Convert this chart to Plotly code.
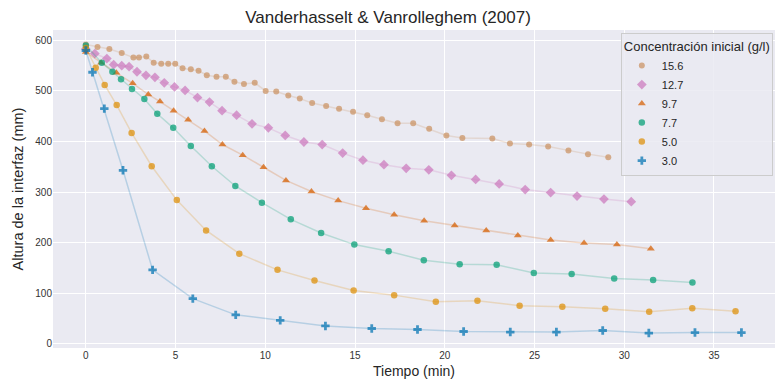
import plotly.graph_objects as go

# ---- data ----
labels = ["15.6", "12.7", "9.7", "7.7", "5.0", "3.0"]

t_156 = [0, 0.65, 1.31, 2.0, 2.65, 2.96, 3.37, 3.78, 4.2, 4.59, 4.98, 5.39, 5.85, 6.28, 6.74, 7.28, 7.8,
         8.28, 8.81, 9.41, 10.02, 10.61, 11.28, 11.92, 12.61, 13.39, 14.11, 14.89, 15.68, 16.5, 17.37,
         18.24, 19.13, 20.09, 20.98, 22.65, 23.63, 24.7, 25.76, 26.89, 27.98, 29.11]
h_156 = [592, 587, 583, 575, 566, 566, 568, 556, 554, 554, 554, 545, 543, 540, 531, 528, 528,
         518, 514, 516, 500, 499, 491, 485, 476, 470, 465, 459, 452, 444, 436,
         436, 425, 412, 407, 406, 396, 394, 390, 382, 375, 369]

t_127 = [0, 0.5, 1.17, 1.55, 2.0, 2.41, 2.85, 3.35, 3.85, 4.37, 4.94, 5.53, 6.22, 6.89, 7.59, 8.4,
         9.26, 10.17, 11.11, 12.15, 13.17, 14.31, 15.44, 16.61, 17.85, 19.11, 20.37, 21.72, 23.03,
         24.48, 25.9, 27.37, 28.87, 30.39]
h_127 = [583, 574, 564, 552, 550, 548, 538, 531, 527, 516, 508, 501, 487, 478, 461, 452,
         435, 427, 412, 399, 394, 377, 363, 354, 347, 344, 333, 325, 316,
         305, 299, 292, 286, 281]

t_97 = [0, 0.85, 1.7, 2.61, 3.48, 4.13, 4.89, 5.7, 6.61, 7.61, 8.74, 9.9, 11.15, 12.57, 14.06,
        15.61, 17.18, 18.85, 20.55, 22.31, 24.07, 25.9, 27.76, 29.59, 31.48]
h_97 = [577, 556, 536, 515, 493, 479, 461, 443, 421, 394, 373, 349, 323, 301, 283,
        268, 255, 243, 234, 224, 214, 205, 199, 196, 188]

t_77 = [0, 0.89, 1.48, 1.96, 2.57, 3.26, 3.98, 4.87, 5.85, 7.02, 8.33, 9.81, 11.42, 13.11, 14.96,
        16.87, 18.83, 20.83, 22.89, 24.96, 27.07, 29.44, 31.61, 33.8]
h_77 = [590, 556, 538, 523, 504, 484, 455, 427, 391, 351, 312, 279, 246, 219, 196,
        183, 165, 157, 156, 140, 138, 129, 126, 121]

t_50 = [0, 0.55, 1.05, 1.72, 2.55, 3.67, 5.07, 6.7, 8.55, 10.68, 12.74, 14.92, 17.18, 19.5, 21.82,
        24.17, 26.55, 28.94, 31.39, 33.79, 36.2]
h_50 = [585, 546, 512, 472, 417, 351, 284, 224, 178, 146, 125, 105, 96, 83, 85,
        75, 73, 69, 63, 70, 64]

t_30 = [0, 0.37, 1.03, 2.07, 3.72, 5.96, 8.35, 10.83, 13.35, 15.93, 18.48, 21.05, 23.65, 26.22,
        28.8, 31.37, 33.94, 36.53]
h_30 = [580, 537, 465, 343, 146, 89, 57, 46, 35, 30, 28, 24, 23, 23, 26, 21, 22, 22]

times = [t_156, t_127, t_97, t_77, t_50, t_30]
heights = [h_156, h_127, h_97, h_77, h_50, h_30]

x_ticks = [0, 5, 10, 15, 20, 25, 30, 35]
y_ticks = [0, 100, 200, 300, 400, 500, 600]

# ---- styles ----
rgb = [(202, 145, 97), (204, 120, 188), (213, 94, 0), (2, 158, 115), (222, 143, 5), (1, 115, 178)]
symbols = ["circle", "diamond", "triangle-up", "circle", "circle", "cross"]
sizes = [6, 7.5, 7, 6.5, 6.5, 7]

fig = go.Figure()
for lab, tx, hy, c, sym, sz in zip(labels, times, heights, rgb, symbols, sizes):
    fig.add_trace(go.Scatter(
        x=tx, y=hy, mode="lines+markers", name=lab, showlegend=False,
        line=dict(color="rgba(%d,%d,%d,0.22)" % c, width=1.5),
        marker=dict(symbol=sym, size=sz, color="rgba(%d,%d,%d,0.72)" % c,
                    line=dict(width=0)),
    ))
# legend entries (markers only, like the reference)
for lab, c, sym, sz in zip(labels, rgb, symbols, sizes):
    fig.add_trace(go.Scatter(
        x=[None], y=[None], mode="markers", name=lab, showlegend=True,
        marker=dict(symbol=sym, size=sz, color="rgba(%d,%d,%d,0.72)" % c, line=dict(width=0)),
    ))

fig.update_layout(
    width=776, height=387, autosize=False,
    margin=dict(l=53, r=1, t=30, b=39),
    paper_bgcolor="white", plot_bgcolor="#EAEAF2",
    font=dict(family="Liberation Sans, Arial, sans-serif", color="#262626"),
    title=dict(text="Vanderhasselt & Vanrolleghem (2007)", x=0.5, xanchor="center",
               y=0.955, yanchor="middle", font=dict(size=17, color="#262626")),
    xaxis=dict(range=[-1.83, 38.4], tickvals=x_ticks, showgrid=True, gridcolor="white",
               gridwidth=1.2, zeroline=False, showline=False, ticks="",
               tickfont=dict(size=10, color="#333333"),
               title=dict(text="Tiempo (min)", font=dict(size=14, color="#262626"), standoff=6)),
    yaxis=dict(range=[-8.6, 620.6], tickvals=y_ticks, showgrid=True, gridcolor="white",
               gridwidth=1.2, zeroline=False, showline=False, ticks="",
               tickfont=dict(size=10, color="#333333"),
               title=dict(text="Altura de la interfaz (mm)", font=dict(size=14.5, color="#262626"),
                          standoff=8)),
    legend=dict(x=0.997, y=0.99, xanchor="right", yanchor="top",
                bgcolor="rgba(234,234,242,0.85)", bordercolor="#CCCCCC", borderwidth=1,
                font=dict(size=11, color="#262626"),
                title=dict(text="Concentración inicial (g/l)", font=dict(size=13, color="#262626"),
                           side="top"),
                tracegroupgap=0, itemsizing="trace", itemwidth=30),
)

fig.write_html("out.html")
